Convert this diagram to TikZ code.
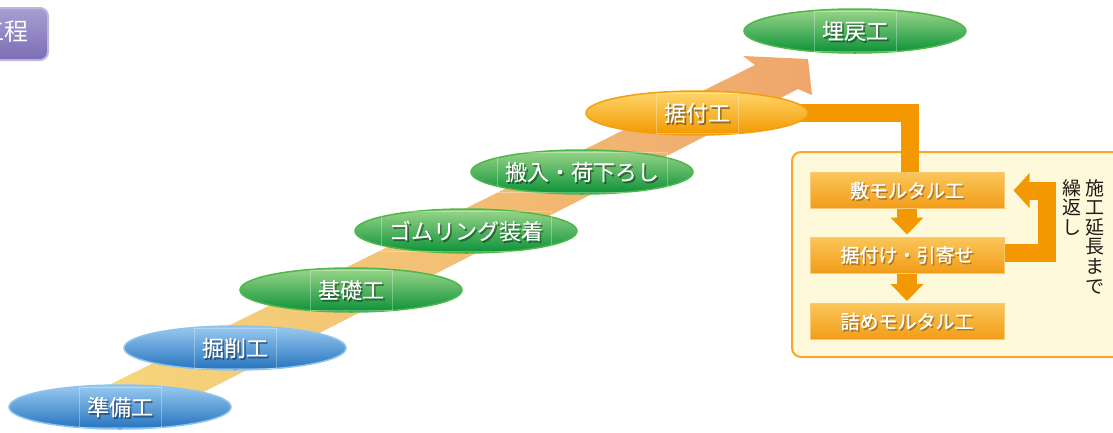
\documentclass[tikz,border=0pt]{standalone}
\usepackage{fontspec}
\newfontfamily\jp[FakeBold=0.9]{Noto Sans CJK JP}
\newfontfamily\jpr{Noto Sans CJK JP}
\usetikzlibrary{shapes.geometric,arrows.meta}
\definecolor{tagtop}{HTML}{A79FD3}
\definecolor{tagbot}{HTML}{7B6DB3}
\definecolor{tagedge}{HTML}{BDB5E0}
\definecolor{arrlo}{HTML}{F6D67C}
\definecolor{arrhi}{HTML}{EFA66C}
\definecolor{regfill}{HTML}{FFF9DC}
\definecolor{regedge}{HTML}{F6A82A}
\definecolor{btop}{HTML}{9ACBF0}
\definecolor{bmid}{HTML}{4A92D8}
\definecolor{bbot}{HTML}{2673BE}
\definecolor{bedge}{HTML}{8CC4EE}
\definecolor{gtop}{HTML}{9BD68A}
\definecolor{gmid}{HTML}{2BA543}
\definecolor{gbot}{HTML}{0B9138}
\definecolor{gedge}{HTML}{4DB848}
\definecolor{otop}{HTML}{FDD66A}
\definecolor{omid}{HTML}{F8AC1F}
\definecolor{obot}{HTML}{F39800}
\definecolor{oedge}{HTML}{F3A010}
\definecolor{xtop}{HTML}{FAC65A}
\definecolor{xbot}{HTML}{F29C18}
\definecolor{xedge}{HTML}{F9C977}
\definecolor{bandc}{HTML}{F39800}
\definecolor{vtextc}{HTML}{231815}
\pgfdeclarelayer{back}
\pgfdeclarelayer{mid}
\pgfsetlayers{back,mid,main}
\begin{document}
\begin{tikzpicture}[x=1pt,y=-1pt,
  ell/.style={ellipse, inner sep=0pt, minimum width=222pt, minimum height=44pt, line width=1.5pt},
  blueell/.style={ell, top color=btop, middle color=bmid, bottom color=bbot, draw=bedge},
  greenell/.style={ell, top color=gtop, middle color=gmid, bottom color=gbot, draw=gedge},
  orangeell/.style={ell, top color=otop, middle color=omid, bottom color=obot, draw=oedge},
  efont/.style={font=\jp\fontsize{22}{26}\selectfont},
  etext/.style={efont, text=white, draw=white, draw opacity=0.3, line width=0.6pt, inner xsep=8pt, minimum height=40pt},
  eshadow/.style={efont, text=black, text opacity=0.35, inner sep=0pt},
  bfont/.style={font=\jp\fontsize{19}{22}\selectfont},
  pbox/.style={rectangle, minimum width=194pt, minimum height=36pt, inner sep=0pt, top color=xtop, bottom color=xbot, draw=xedge, line width=1pt, bfont, text=white},
  bshadow/.style={bfont, text=black, text opacity=0.25, inner sep=0pt},
  band/.style={draw=bandc, line width=18pt},
  vtext/.style={font=\jpr\fontsize{19}{19.6}\selectfont, text=vtextc, align=center, inner sep=0pt, anchor=north}
]
\useasboundingbox (0,0) rectangle (1113,432);
\clip (0,0) rectangle (1113,432);

% title tag
\shade[top color=tagtop, bottom color=tagbot, draw=tagedge, line width=2pt, rounded corners=8pt] (-40,8) rectangle (48,60);
\node[font=\jpr\fontsize{24}{28}\selectfont, text=white, anchor=east, inner sep=0pt] (tag) at (29,32) {工程};

% big diagonal arrow and detail region
\begin{pgfonlayer}{back}
\shade[left color=arrlo, right color=arrhi] (109,385) -- (755,65) -- (743,56) -- (808,59) -- (812,95) -- (798,89) -- (131,429) -- cycle;
\draw[fill=regfill, draw=regedge, line width=2pt, rounded corners=9pt] (792,152) rectangle (1140,357);
\end{pgfonlayer}

% process ellipses
\node[blueell] (e1) at (120,407) {};
\node[blueell] (e2) at (235,348) {};
\node[greenell] (e3) at (351,290) {};
\node[greenell] (e4) at (466,231) {};
\node[greenell] (e5) at (582,172) {};
\node[orangeell] (e6) at (697,113) {};
\node[greenell] (e7) at (855,31) {};
\node[eshadow] (s1) at ([shift={(1.6pt,-1.8pt)}]e1.center) {準備工};
\node[eshadow] (s2) at ([shift={(1.6pt,-1.8pt)}]e2.center) {掘削工};
\node[eshadow] (s3) at ([shift={(1.6pt,-1.8pt)}]e3.center) {基礎工};
\node[eshadow] (s4) at ([shift={(1.6pt,-1.8pt)}]e4.center) {ゴムリング装着};
\node[eshadow] (s5) at ([shift={(1.6pt,-1.8pt)}]e5.center) {搬入・荷下ろし};
\node[eshadow] (s6) at ([shift={(1.6pt,-1.8pt)}]e6.center) {据付工};
\node[eshadow] (s7) at ([shift={(1.6pt,-1.8pt)}]e7.center) {埋戻工};
\node[etext] (t1) at (e1) {準備工};
\node[etext] (t2) at (e2) {掘削工};
\node[etext] (t3) at (e3) {基礎工};
\node[etext] (t4) at (e4) {ゴムリング装着};
\node[etext] (t5) at (e5) {搬入・荷下ろし};
\node[etext] (t6) at (e6) {据付工};
\node[etext] (t7) at (e7) {埋戻工};

% detail boxes
\node[pbox] (b1) at (907,190.5) {};
\node[pbox] (b2) at (907,255) {};
\node[pbox] (b3) at (907,321.5) {};
\node[bshadow] (bs1) at ([shift={(1.4pt,-1.6pt)}]b1.center) {敷モルタル工};
\node[bshadow] (bs2) at ([shift={(1.4pt,-1.6pt)}]b2.center) {据付け・引寄せ};
\node[bshadow] (bs3) at ([shift={(1.4pt,-1.6pt)}]b3.center) {詰めモルタル工};
\node[bfont, text=white, inner sep=0pt] (bt1) at (b1) {敷モルタル工};
\node[bfont, text=white, inner sep=0pt] (bt2) at (b2) {据付け・引寄せ};
\node[bfont, text=white, inner sep=0pt] (bt3) at (b3) {詰めモルタル工};

% connectors
\begin{pgfonlayer}{mid}
\draw[band] (e6.center) -| ([xshift=3pt]b1.north);
\end{pgfonlayer}
\draw[band, line width=20pt, -{Triangle[width=32pt,length=17pt]}, shorten >=2pt] (b1.south) -- (b2.north);
\draw[band, line width=20pt, -{Triangle[width=32pt,length=17pt]}, shorten >=2pt] (b2.south) -- (b3.north);
\draw[band, -{Triangle[width=34pt,length=16pt]}, shorten >=9pt] ([yshift=2pt]b2.east) -- ++(42,0) |- (b1.east);

% vertical note
\node[vtext] (v1) at (1095,179) {施\\工\\延\\長\\ま\\で};
\node[vtext] (v2) at (1072,179) {繰\\返\\し};
\end{tikzpicture}
\end{document}
